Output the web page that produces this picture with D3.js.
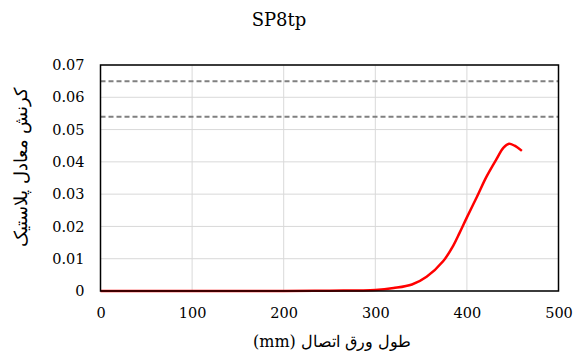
<!DOCTYPE html>
<html>
<head>
<meta charset="utf-8">
<script src="https://cdn.jsdelivr.net/npm/d3@7"></script>
<style>
  html, body { margin: 0; padding: 0; background: #fff; }
</style>
</head>
<body>
<svg id="chart" width="574" height="355"></svg>
<script>
// Equivalent plastic strain along the connection plate length
const lengthMm = [0, 100, 200, 250, 300, 320, 340, 356, 374, 385, 392, 400, 411, 421, 432, 440, 446, 452, 460];
const strain   = [0, 0, 0, 0.0001, 0.0003, 0.0009, 0.0020, 0.0044, 0.0092, 0.0140, 0.0180, 0.0228, 0.0292, 0.0352, 0.0407, 0.0444, 0.0456, 0.0450, 0.0434];
// Reference strain limits (dashed)
const limits = [0.065, 0.054];
const xTicks = [0, 100, 200, 300, 400, 500];
const yTicks = [0, 0.01, 0.02, 0.03, 0.04, 0.05, 0.06, 0.07];

const title = "SP8tp";
const xTitle = "طول ورق اتصال (mm)";
const yTitle = "کرنش معادل پلاستیک";

const serif = "'DejaVu Serif', serif";
const svg = d3.select("#chart");
const m = { left: 100.5, right: 558.5, top: 65, bottom: 291 };

const x = d3.scaleLinear().domain([0, 500]).range([m.left, m.right]);
const y = d3.scaleLinear().domain([0, 0.07]).range([m.bottom, m.top]);

// gridlines
svg.append("g").selectAll("line").data(yTicks).join("line")
  .attr("x1", m.left).attr("x2", m.right)
  .attr("y1", d => y(d)).attr("y2", d => y(d))
  .attr("stroke", "#d9d9d9").attr("stroke-width", 1);
svg.append("g").selectAll("line").data(xTicks).join("line")
  .attr("x1", d => x(d)).attr("x2", d => x(d))
  .attr("y1", m.top).attr("y2", m.bottom)
  .attr("stroke", "#d9d9d9").attr("stroke-width", 1);

// dashed limit lines
svg.append("g").selectAll("line").data(limits).join("line")
  .attr("x1", m.left).attr("x2", m.right)
  .attr("y1", d => y(d)).attr("y2", d => y(d))
  .attr("stroke", "#808080").attr("stroke-width", 2)
  .attr("stroke-dasharray", "5,3");

// strain curve
const line = d3.line().x((d, i) => x(lengthMm[i])).y(d => y(d)).curve(d3.curveCatmullRom.alpha(0.5));
svg.append("path").datum(strain)
  .attr("d", line).attr("fill", "none")
  .attr("stroke", "#ff0000").attr("stroke-width", 2.5)
  .attr("stroke-linejoin", "round");

// plot frame
svg.append("rect")
  .attr("x", m.left).attr("y", m.top)
  .attr("width", m.right - m.left).attr("height", m.bottom - m.top)
  .attr("fill", "none").attr("stroke", "#000").attr("stroke-width", 1.5);

// tick labels
const xAxis = d3.axisBottom(x).tickValues(xTicks).tickSize(0).tickPadding(17).tickFormat(d3.format("d"));
const gx = svg.append("g").attr("transform", `translate(0,${m.bottom})`).call(xAxis)
  .attr("font-family", serif).attr("font-size", 14.5);
gx.select(".domain").remove();

const yAxis = d3.axisLeft(y).tickValues(yTicks).tickSize(0).tickPadding(16)
  .tickFormat(d => d === 0 ? "0" : d3.format(".2f")(d));
const gy = svg.append("g").attr("transform", `translate(${m.left},0)`).call(yAxis)
  .attr("font-family", serif).attr("font-size", 14.5);
gy.select(".domain").remove();

// titles
svg.append("text").attr("font-family", serif).attr("x", 279).attr("y", 26).attr("text-anchor", "middle")
  .attr("font-size", 18).text(title);
svg.append("text").attr("font-family", serif).attr("x", 332).attr("y", 347).attr("text-anchor", "middle")
  .attr("direction", "rtl")
  .attr("font-size", 16).text(xTitle);
svg.append("text").attr("font-family", serif).attr("transform", "translate(27,167) rotate(-90)").attr("text-anchor", "middle")
  .attr("font-size", 17.5).text(yTitle);
</script>
</body>
</html>
